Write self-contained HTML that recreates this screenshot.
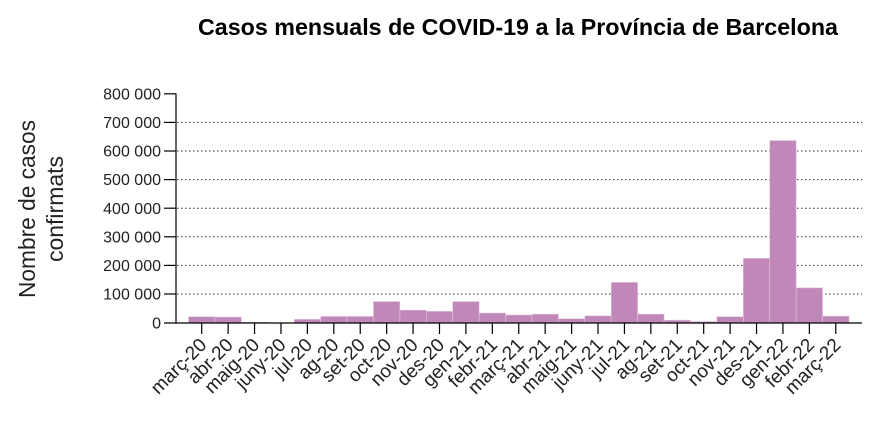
<!DOCTYPE html>
<html><head><meta charset="utf-8"><style>
html,body{margin:0;padding:0;background:#fff;}
svg{display:block;font-family:"Liberation Sans",Arial,sans-serif;}
</style></head><body>
<svg width="871" height="425" viewBox="0 0 871 425" xmlns="http://www.w3.org/2000/svg">
<text x="518" y="35" text-anchor="middle" font-size="23" font-weight="bold" fill="#000" textLength="640" lengthAdjust="spacingAndGlyphs">Casos mensuals de COVID-19 a la Província de Barcelona</text>
<g transform="translate(45,209) rotate(-90)" font-size="23" fill="#222" text-anchor="middle">
<text x="0" y="-10" textLength="178" lengthAdjust="spacingAndGlyphs">Nombre de casos</text>
<text x="0" y="18">confirmats</text>
</g>
<g id="grid" stroke="#333" stroke-width="1" stroke-dasharray="1.5,2.5">
<line x1="177" x2="862" y1="122.4" y2="122.4"/>
<line x1="177" x2="862" y1="151" y2="151"/>
<line x1="177" x2="862" y1="179.6" y2="179.6"/>
<line x1="177" x2="862" y1="208.2" y2="208.2"/>
<line x1="177" x2="862" y1="236.8" y2="236.8"/>
<line x1="177" x2="862" y1="265.4" y2="265.4"/>
<line x1="177" x2="862" y1="294" y2="294"/>
</g>
<g id="bars"></g>
<g stroke="#000" stroke-width="1.2">
<line x1="176" y1="93.5" x2="176" y2="323"/>
<line x1="164" y1="323" x2="862" y2="323"/>
<line x1="164" y1="93.8" x2="176" y2="93.8"/>
<line x1="164" y1="122.4" x2="176" y2="122.4"/>
<line x1="164" y1="151" x2="176" y2="151"/>
<line x1="164" y1="179.6" x2="176" y2="179.6"/>
<line x1="164" y1="208.2" x2="176" y2="208.2"/>
<line x1="164" y1="236.8" x2="176" y2="236.8"/>
<line x1="164" y1="265.4" x2="176" y2="265.4"/>
<line x1="164" y1="294" x2="176" y2="294"/>
</g>
<g font-size="16" fill="#222" text-anchor="end">
<text x="161" y="99.5">800 000</text>
<text x="161" y="128">700 000</text>
<text x="161" y="156.6">600 000</text>
<text x="161" y="185.2">500 000</text>
<text x="161" y="213.8">400 000</text>
<text x="161" y="242.4">300 000</text>
<text x="161" y="271">200 000</text>
<text x="161" y="299.6">100 000</text>
<text x="161" y="328.6">0</text>
</g>
<g id="xt"></g>
<script>
var labels=["març-20","abr-20","maig-20","juny-20","jul-20","ag-20","set-20","oct-20","nov-20","des-20","gen-21","febr-21","març-21","abr-21","maig-21","juny-21","jul-21","ag-21","set-21","oct-21","nov-21","des-21","gen-22","febr-22","març-22"];
var vals=[22,21,3,1,13,23,23,75,45,41,75,35,28,31,15,25,142,31,10,5,22,226,638,123,24];
var ns="http://www.w3.org/2000/svg",b=document.getElementById("bars"),xt=document.getElementById("xt");
var w=26.42;
for(var i=0;i<25;i++){
 var x0=188.5+w*i,h=vals[i]*0.286;
 var r=document.createElementNS(ns,"rect");
 r.setAttribute("x",x0);r.setAttribute("y",323-h);r.setAttribute("width",w);r.setAttribute("height",h);
 r.setAttribute("fill","#c088b8");r.setAttribute("stroke","#e3c6df");r.setAttribute("stroke-width","0.6");
 b.appendChild(r);
 var cx=x0+w/2;
 var l=document.createElementNS(ns,"line");
 l.setAttribute("x1",cx);l.setAttribute("x2",cx);l.setAttribute("y1",323);l.setAttribute("y2",334);
 l.setAttribute("stroke","#000");l.setAttribute("stroke-width","1.2");xt.appendChild(l);
 var t=document.createElementNS(ns,"text");
 t.setAttribute("transform","translate("+(cx+6)+",346) rotate(-45)");
 t.setAttribute("text-anchor","end");t.setAttribute("font-size","19");t.setAttribute("fill","#222");
 t.textContent=labels[i];xt.appendChild(t);
}
</script>
</svg>
</body></html>
